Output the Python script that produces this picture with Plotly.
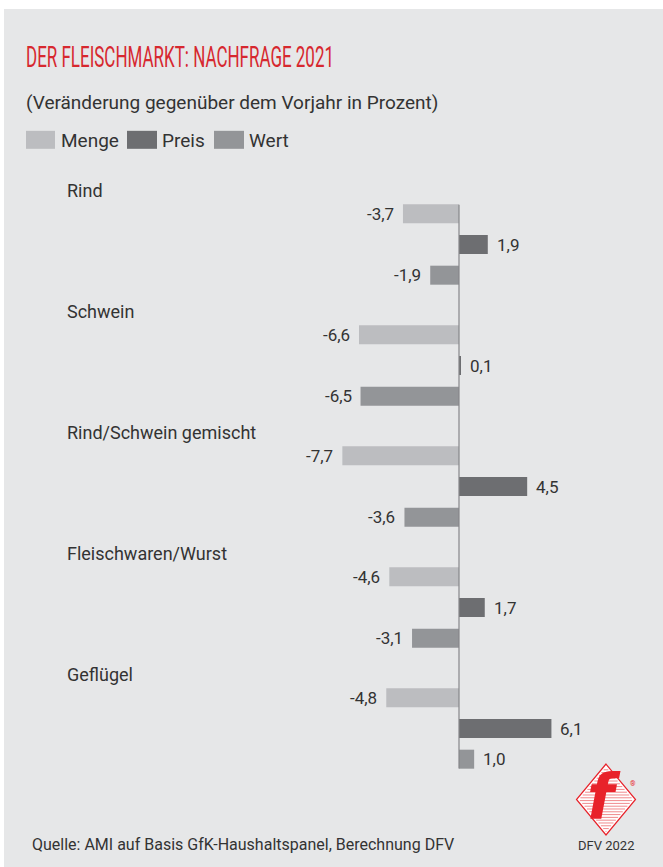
import plotly.graph_objects as go

# ---------------- data ----------------
categories = ["Rind", "Schwein", "Rind/Schwein gemischt", "Fleischwaren/Wurst", "Geflügel"]
series_names = ["Menge", "Preis", "Wert"]
menge = [-3.7, -6.6, -7.7, -4.6, -4.8]
preis = [1.9, 0.1, 4.5, 1.7, 6.1]
wert = [-1.9, -6.5, -3.6, -3.1, 1.0]
series_values = [menge, preis, wert]
series_colors = ["#bcbdc0", "#6d6e71", "#939598"]

title_text = "DER FLEISCHMARKT: NACHFRAGE 2021"
subtitle_text = "(Veränderung gegenüber dem Vorjahr in Prozent)"
source_text = "Quelle: AMI auf Basis GfK-Haushaltspanel, Berechnung DFV"
logo_text = "DFV 2022"

# ---------------- layout geometry (pixels) ----------------
W, H = 663, 867
L, R = 20, 20
T, B = 184.2, 77.5
PW = W - L - R
PH = H - T - B
ZERO_PX = 459
PX_PER_UNIT = 15.15
BAND = PH / len(categories)
BARGAP = 0.239
SLOT = BAND * (1 - BARGAP) / 3

def px(x):
    return (x - L) / PW

def py(y):
    return (H - B - y) / PH

FONT = "Roboto, 'DejaVu Sans', sans-serif"
TXT = "#333333"
BG = "#e6e7e8"

fig = go.Figure()
for name, vals, col in zip(series_names, series_values, series_colors):
    fig.add_trace(go.Bar(
        y=categories, x=vals, name=name, orientation="h",
        marker=dict(color=col, line=dict(width=0)),
        showlegend=False,
        hovertemplate="%{y}<br>" + name + ": %{x}<extra></extra>",
    ))

shapes = []
annotations = []

# panel background
shapes.append(dict(type="rect", xref="paper", yref="paper", x0=px(4), x1=px(W + 5),
                   y0=py(9), y1=py(H + 5), fillcolor=BG, line=dict(width=0), layer="below"))

# zero line
shapes.append(dict(type="line", xref="x", yref="paper", x0=0, x1=0, y0=py(205), y1=py(769),
                   line=dict(color="#858689", width=1.2), layer="above"))

# value labels
offsets = [SLOT, 0, -SLOT]
for si, vals in enumerate(series_values):
    for ci, v in enumerate(vals):
        label = f"{v:.1f}".replace(".", ",")
        annotations.append(dict(
            x=v, y=categories[ci], xref="x", yref="y", text=label, showarrow=False,
            xanchor="right" if v < 0 else "left", yanchor="middle",
            xshift=-7 if v < 0 else 7, yshift=offsets[si],
            font=dict(family=FONT, size=17, color=TXT),
        ))

# category labels
for ci, c in enumerate(categories):
    annotations.append(dict(
        x=px(65), y=c, xref="paper", yref="y", text=c, showarrow=False,
        xanchor="left", yanchor="middle", yshift=54,
        font=dict(family=FONT, size=18, color=TXT),
    ))

# title / subtitle
annotations.append(dict(x=px(24), y=py(57), xref="paper", yref="paper", text=title_text,
                        showarrow=False, xanchor="left", yanchor="middle", align="left",
                        font=dict(family=FONT, size=29, color="#d7282f")))
annotations.append(dict(x=px(24), y=py(103), xref="paper", yref="paper", text=subtitle_text,
                        showarrow=False, xanchor="left", yanchor="middle",
                        font=dict(family=FONT, size=19, color=TXT)))

# legend
leg_x = [(26, 55, 59), (127, 157, 160), (214, 244, 247)]
for (x0, x1, tx), name, col in zip(leg_x, series_names, series_colors):
    shapes.append(dict(type="rect", xref="paper", yref="paper", x0=px(x0), x1=px(x1),
                       y0=py(149), y1=py(131), fillcolor=col, line=dict(width=0)))
    annotations.append(dict(x=px(tx), y=py(141), xref="paper", yref="paper", text=name,
                            showarrow=False, xanchor="left", yanchor="middle",
                            font=dict(family=FONT, size=19, color=TXT)))

# source
annotations.append(dict(x=px(30), y=py(845), xref="paper", yref="paper", text=source_text,
                        showarrow=False, xanchor="left", yanchor="middle",
                        font=dict(family=FONT, size=16, color=TXT)))

# logo: striped diamond
cx, cy, hw, hh = 606, 800, 29.5, 35.5
red = "#e8222a"
shapes.append(dict(type="path", xref="paper", yref="paper",
                   path=f"M {px(cx)},{py(cy-hh)} L {px(cx+hw)},{py(cy)} L {px(cx)},{py(cy+hh)} L {px(cx-hw)},{py(cy)} Z",
                   fillcolor="#ffffff", line=dict(color=red, width=1.2)))
yy = cy - hh + 3
while yy < cy + hh - 2:
    d = hw * (1 - abs(yy - cy) / hh) - 2.5
    if d > 0:
        shapes.append(dict(type="line", xref="paper", yref="paper",
                           x0=px(cx - d), x1=px(cx + d), y0=py(yy), y1=py(yy),
                           line=dict(color="#f08a8d", width=1)))
    yy += 2.8
annotations.append(dict(x=px(604), y=py(797), xref="paper", yref="paper", text="<b><i>f</i></b>",
                        showarrow=False, xanchor="center", yanchor="middle",
                        font=dict(family="'DejaVu Sans', sans-serif", size=62, color=red)))
annotations.append(dict(x=px(633), y=py(784), xref="paper", yref="paper", text="®",
                        showarrow=False, xanchor="center", yanchor="middle",
                        font=dict(family=FONT, size=7, color=red)))
annotations.append(dict(x=px(606), y=py(846), xref="paper", yref="paper", text=logo_text,
                        showarrow=False, xanchor="center", yanchor="middle",
                        font=dict(family=FONT, size=13, color=TXT)))

fig.update_layout(
    width=W, height=H,
    margin=dict(l=L, r=R, t=T, b=B, pad=0),
    paper_bgcolor="#ffffff", plot_bgcolor="rgba(0,0,0,0)",
    barmode="group", bargap=BARGAP, bargroupgap=0.381,
    xaxis=dict(range=[-(ZERO_PX - L) / PX_PER_UNIT, (W - R - ZERO_PX) / PX_PER_UNIT],
               visible=False, showgrid=False, zeroline=False, fixedrange=True),
    yaxis=dict(range=[len(categories) - 0.5, -0.5], autorange=False, visible=False,
               showgrid=False, zeroline=False, fixedrange=True,
               categoryorder="array", categoryarray=categories),
    shapes=shapes, annotations=annotations,
    font=dict(family=FONT, color=TXT),
)

# remove the default page margin and give the title its condensed look
post = """
document.body.style.margin = '0';
var gd = document.getElementById('{plot_id}');
gd.querySelectorAll('text.annotation-text').forEach(function (t) {
  if (t.textContent === '%s') {
    t.setAttribute('textLength', '308');
    t.setAttribute('lengthAdjust', 'spacingAndGlyphs');
  }
});
""" % title_text

fig.write_html("out.html", config={"displayModeBar": False}, post_script=post)
